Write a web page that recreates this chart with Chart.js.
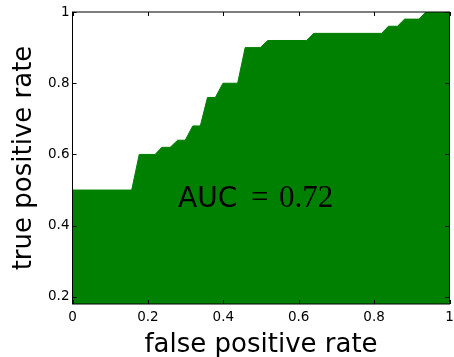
<!DOCTYPE html>
<html>
<head>
<meta charset="utf-8">
<script src="https://cdn.jsdelivr.net/npm/chart.js@4"></script>
<style>
  html, body { margin: 0; padding: 0; background: #fff; }
  #wrap { width: 454px; height: 357px; }
</style>
</head>
<body>
<div id="wrap"><canvas id="roc"></canvas></div>
<script>
// ROC curve vertices
const fpr = [0, 0.157, 0.177, 0.219, 0.237, 0.259, 0.279, 0.299, 0.319, 0.339, 0.358, 0.379, 0.399, 0.438, 0.458, 0.498, 0.518, 0.621, 0.640, 0.820, 0.838, 0.862, 0.881, 0.919, 0.937, 1];
const tpr = [0.5, 0.5, 0.6, 0.6, 0.62, 0.62, 0.64, 0.64, 0.68, 0.68, 0.76, 0.76, 0.8, 0.8, 0.9, 0.9, 0.92, 0.92, 0.94, 0.94, 0.96, 0.96, 0.98, 0.98, 1, 1];

const xTicks = [0, 0.2, 0.4, 0.6, 0.8, 1];
const yTicks = [0.2, 0.4, 0.6, 0.8, 1];
const aucLabel = 'AUC';
const aucValue = '0.72';

const GREEN = '#008000';
const SANS = 'DejaVu Sans';

// frame, inward ticks on all four sides, and the AUC annotation
const framePlugin = {
  id: 'frame',
  afterDraw(chart) {
    const { ctx, chartArea: a, scales } = chart;
    const x = scales.x, y = scales.y;
    ctx.save();
    ctx.strokeStyle = '#000';
    ctx.lineWidth = 1;
    ctx.beginPath();
    xTicks.forEach(v => {
      const px = Math.round(x.getPixelForValue(v)) + 0.5;
      ctx.moveTo(px, a.bottom); ctx.lineTo(px, a.bottom - 4);
      ctx.moveTo(px, a.top); ctx.lineTo(px, a.top + 4);
    });
    yTicks.forEach(v => {
      const py = Math.round(y.getPixelForValue(v)) + 0.5;
      ctx.moveTo(a.left, py); ctx.lineTo(a.left + 4, py);
      ctx.moveTo(a.right, py); ctx.lineTo(a.right - 4, py);
    });
    ctx.stroke();
    ctx.strokeRect(a.left, a.top, a.right - a.left, a.bottom - a.top);

    // annotation
    const tx = x.getPixelForValue(0.28);
    const ty = y.getPixelForValue(0.452);
    ctx.fillStyle = '#000';
    ctx.textBaseline = 'alphabetic';
    ctx.textAlign = 'left';
    ctx.font = '28px "' + SANS + '"';
    ctx.fillText(aucLabel, tx, ty);
    ctx.font = '31px "Liberation Serif"';
    ctx.fillText('=', tx + 73, ty);
    ctx.fillText(aucValue, tx + 101, ty);
    ctx.restore();
  }
};

Chart.defaults.font.family = SANS;
Chart.defaults.color = '#000';

new Chart(document.getElementById('roc'), {
  type: 'line',
  data: {
    datasets: [{
      data: fpr.map((v, i) => ({ x: v, y: tpr[i] })),
      fill: 'start',
      backgroundColor: GREEN,
      borderColor: GREEN,
      borderWidth: 1,
      pointRadius: 0,
      tension: 0
    }]
  },
  options: {
    responsive: true,
    maintainAspectRatio: false,
    animation: false,
    layout: { padding: { top: 12, right: 0, left: 0, bottom: 0 } },
    plugins: { legend: { display: false }, tooltip: { enabled: false } },
    scales: {
      x: {
        type: 'linear',
        min: 0,
        max: 1,
        afterBuildTicks: s => { s.ticks = xTicks.map(v => ({ value: v })); },
        afterFit: s => { s.height = 53; s.paddingRight = 4.5; },
        grid: { display: false, drawTicks: false },
        border: { display: false },
        ticks: { font: { size: 13.5 }, padding: 5, maxRotation: 0, callback: v => String(v) },
        title: { display: true, text: 'false positive rate', font: { size: 26, lineHeight: 1 }, padding: { bottom: -1, top: 0 } }
      },
      y: {
        type: 'linear',
        min: 0.18,
        max: 1,
        afterBuildTicks: s => { s.ticks = yTicks.map(v => ({ value: v })); },
        afterFit: s => { s.width = 72.5; },
        grid: { display: false, drawTicks: false },
        border: { display: false },
        ticks: { font: { size: 13.5 }, padding: 3, callback: v => String(v) },
        title: { display: true, text: 'true positive rate', font: { size: 26, lineHeight: 1 }, padding: { top: 11, bottom: 0 } }
      }
    }
  },
  plugins: [framePlugin]
});
</script>
</body>
</html>
